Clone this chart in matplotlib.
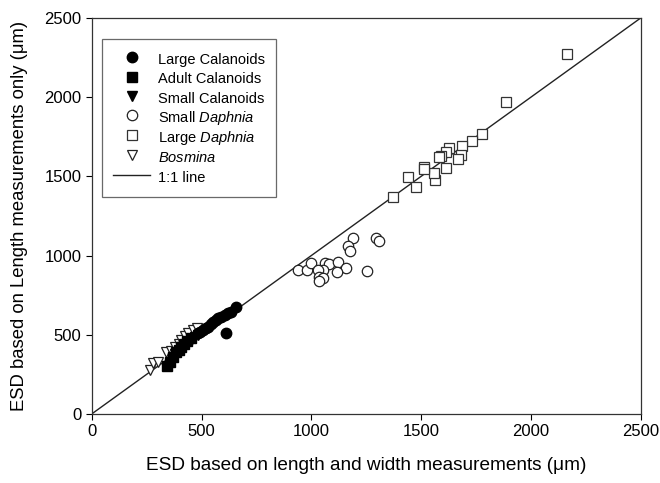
import matplotlib
matplotlib.use("Agg")
import matplotlib.pyplot as plt

plt.rcParams['font.family'] = ['Liberation Sans', 'DejaVu Sans']
plt.rcParams['mathtext.fontset'] = 'custom'
plt.rcParams['mathtext.rm'] = 'Liberation Sans'
plt.rcParams['mathtext.it'] = 'Liberation Sans:italic'

# ESD values (um): x = length+width, y = length only
large_cal_x = [484, 495, 507, 518, 530, 541, 553, 564, 575, 590, 606, 620, 636, 657, 613]
large_cal_y = [509, 520, 530, 542, 551, 566, 583, 592, 604, 612, 625, 635, 646, 677, 509]

adult_cal_x = [343, 355, 370, 385, 398, 408, 420, 435, 450]
adult_cal_y = [300, 330, 362, 393, 405, 425, 440, 462, 480]

small_cal_x = [380, 395, 410, 425, 440, 455, 470, 485]
small_cal_y = [380, 395, 420, 430, 455, 470, 485, 500]

small_daph_x = [1190, 1167, 1178, 1296, 1307, 1255, 940, 981, 999, 1061, 1081, 1122,
                1157, 1117, 1051, 1028, 1035, 1051, 1034]
small_daph_y = [1113, 1063, 1029, 1109, 1094, 903, 909, 909, 955, 955, 947, 958,
                920, 899, 909, 909, 863, 857, 840]

large_daph_x = [2163, 1884, 1778, 1732, 1686, 1683, 1668, 1627, 1612, 1592, 1580, 1612,
                1565, 1559, 1512, 1512, 1440, 1478, 1372]
large_daph_y = [2273, 1968, 1766, 1723, 1692, 1637, 1610, 1681, 1652, 1629, 1620, 1551,
                1477, 1519, 1561, 1547, 1498, 1435, 1372]

bosmina_x = [264, 279, 300, 340, 360, 378, 395, 408, 425, 438, 461, 480]
bosmina_y = [278, 320, 330, 393, 400, 425, 440, 467, 490, 509, 530, 545]

fig = plt.figure(figsize=(6.6, 4.83), dpi=100)
ax = fig.add_axes([0.139, 0.143, 0.832, 0.820])

ms = 7.5
ax.plot([0, 2500], [0, 2500], color='#222222', lw=1.0, label='1:1 line', zorder=1)
h1, = ax.plot(large_cal_x, large_cal_y, 'o', color='black', ms=ms, ls='none',
              label='Large Calanoids', zorder=3)
h2, = ax.plot(adult_cal_x, adult_cal_y, 's', color='black', ms=ms - 1, ls='none',
              label='Adult Calanoids', zorder=3)
h3, = ax.plot(small_cal_x, small_cal_y, 'v', color='black', ms=ms, ls='none',
              label='Small Calanoids', zorder=3)
h4, = ax.plot(small_daph_x, small_daph_y, 'o', mfc='white', mec='#222222', mew=0.9,
              ms=ms, ls='none', label='Small $\\mathit{Daphnia}$', zorder=2)
h5, = ax.plot(large_daph_x, large_daph_y, 's', mfc='white', mec='#333333', mew=0.9,
              ms=ms - 1, ls='none', label='Large $\\mathit{Daphnia}$', zorder=2)
h6, = ax.plot(bosmina_x, bosmina_y, 'v', mfc='white', mec='#222222', mew=0.9,
              ms=ms, ls='none', label='$\\mathit{Bosmina}$', zorder=2)
line = ax.get_lines()[0]

ax.set_xlim(0, 2500)
ax.set_ylim(0, 2500)
ax.set_xticks(range(0, 2501, 500))
ax.set_yticks(range(0, 2501, 500))
ax.tick_params(direction='out', labelsize=12, length=4, width=0.8)
for s in ax.spines.values():
    s.set_linewidth(0.9)
    s.set_color('#333333')

ax.set_xlabel('ESD based on length and width measurements (\u03bcm)', fontsize=13.7, labelpad=13)
ax.set_ylabel('ESD based on Length measurements only (\u03bcm)', fontsize=13.3, labelpad=12)

# taller handle boxes so every legend row has the same height
leg = ax.legend(handles=[h1, h2, h3, h4, h5, h6, line], loc='upper left',
                bbox_to_anchor=(0.018, 0.947), fontsize=10.5, frameon=True,
                fancybox=False, edgecolor='#444444', borderpad=0.8,
                labelspacing=0.1, handleheight=1.5, handlelength=2.5,
                handletextpad=0.55, borderaxespad=0)
leg.get_frame().set_linewidth(0.9)

fig.savefig('out.png', dpi=100)
